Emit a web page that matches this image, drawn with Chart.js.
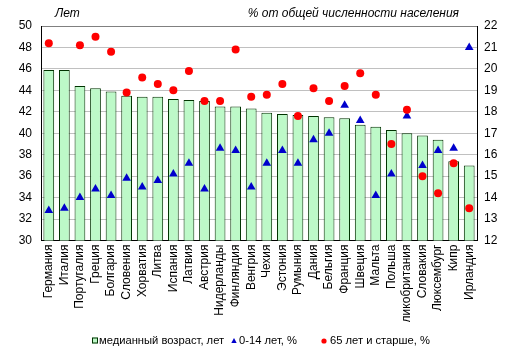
<!DOCTYPE html>
<html>
<head>
<meta charset="utf-8">
<script src="https://cdn.jsdelivr.net/npm/chart.js@4/dist/chart.umd.min.js"></script>
<style>
html,body{margin:0;padding:0;background:#fff;}
#wrap{width:516px;height:356px;}
</style>
</head>
<body>
<div id="wrap"><canvas id="c" width="516" height="356"></canvas></div>
<script>
const countries = ["Германия","Италия","Португалия","Греция","Болгария","Словения","Хорватия","Литва","Испания","Латвия","Австрия","Нидерланды","Финляндия","Венгрия","Чехия","Эстония","Румыния","Дания","Бельгия","Франция","Швеция","Мальта","Польша","Великобритания","Словакия","Люксембург","Кипр","Ирландия"];
const medianAge = [45.9,45.9,44.4,44.2,43.9,43.5,43.4,43.4,43.2,43.1,43.0,42.5,42.5,42.3,41.9,41.8,41.7,41.6,41.5,41.4,40.8,40.6,40.3,40.0,39.8,39.4,37.4,37.0];
const share0to14 = [13.4,13.5,14.0,14.4,14.1,14.9,14.5,14.8,15.1,15.6,14.4,16.3,16.2,14.5,15.6,16.2,15.6,16.7,17.0,18.3,17.6,14.1,15.1,17.8,15.5,16.2,16.3,21.0];
const share65plus = [21.2,null,21.1,21.5,20.8,18.9,19.6,19.3,19.0,19.9,18.5,18.5,20.9,18.7,18.8,19.3,17.8,19.1,18.5,19.2,19.8,18.8,16.5,18.1,15.0,14.2,15.6,13.5];
const seriesNames = ["медианный возраст, лет","0-14 лет, %","65 лет и старше, %"];
const leftTitle = "Лет";
const rightTitle = "% от общей численности населения";

const FONT = "'Liberation Sans', Arial, sans-serif";
const BAR_FILL = "#bdf9c8";
const BAR_EDGE = "#003300";
const BLUE = "#0000cc";
const RED = "#ff0000";

const extras = {
  id: 'extras',
  beforeDraw(chart) {
    const s = chart.scales.x;
    if (s && !s._clipPatched) {
      const orig = s.drawLabels.bind(s);
      s.drawLabels = function(area) {
        const ctx = this.ctx;
        ctx.save();
        ctx.beginPath();
        ctx.rect(0, 0, 516, 322);
        ctx.clip();
        orig(area);
        ctx.restore();
      };
      s._clipPatched = true;
    }
  },
  afterDraw(chart) {
    const ctx = chart.ctx;
    ctx.save();
    ctx.fillStyle = '#000';
    ctx.font = "italic 12px " + FONT;
    ctx.textBaseline = 'alphabetic';
    ctx.textAlign = 'left';
    ctx.fillText(leftTitle, 55, 17);
    ctx.textAlign = 'right';
    ctx.fillText(rightTitle, 459, 17);

    // legend
    const cy = 341;
    ctx.font = "11.2px " + FONT;
    ctx.textAlign = 'left';
    ctx.textBaseline = 'middle';
    // square
    ctx.fillStyle = BAR_FILL;
    ctx.strokeStyle = BAR_EDGE;
    ctx.lineWidth = 1;
    ctx.fillRect(92, cy - 3.5, 6, 6);
    ctx.strokeRect(92.5, cy - 3, 5, 5);
    ctx.fillStyle = '#000';
    ctx.fillText(seriesNames[0], 99, cy);
    // triangle
    ctx.fillStyle = BLUE;
    ctx.beginPath();
    ctx.moveTo(234, cy - 3);
    ctx.lineTo(236.7, cy + 2);
    ctx.lineTo(231.3, cy + 2);
    ctx.closePath();
    ctx.fill();
    ctx.fillStyle = '#000';
    ctx.fillText(seriesNames[1], 239, cy);
    // circle
    ctx.fillStyle = RED;
    ctx.beginPath();
    ctx.arc(324, cy, 2.6, 0, Math.PI * 2);
    ctx.fill();
    ctx.fillStyle = '#000';
    ctx.fillText(seriesNames[2], 330, cy);
    ctx.restore();
  }
};

new Chart(document.getElementById('c'), {
  data: {
    labels: countries,
    datasets: [
      {
        type: 'bar', label: seriesNames[0], data: medianAge, yAxisID: 'y',
        backgroundColor: BAR_FILL, borderColor: BAR_EDGE, borderWidth: 1,
        barPercentage: 0.69, categoryPercentage: 1, order: 3
      },
      {
        type: 'line', label: seriesNames[1], data: share0to14, yAxisID: 'y2',
        showLine: false, pointStyle: 'triangle', pointRadius: 5,
        pointBackgroundColor: BLUE, pointBorderColor: BLUE, pointBorderWidth: 0, order: 2
      },
      {
        type: 'line', label: seriesNames[2], data: share65plus, yAxisID: 'y2',
        showLine: false, pointStyle: 'circle', pointRadius: 4,
        pointBackgroundColor: RED, pointBorderColor: RED, pointBorderWidth: 0, order: 1
      }
    ]
  },
  options: {
    responsive: false,
    animation: false,
    devicePixelRatio: 1,
    layout: { padding: { top: 26, bottom: 0, left: 0, right: 0 } },
    plugins: { legend: { display: false }, tooltip: { enabled: false }, title: { display: false } },
    scales: {
      x: {
        grid: { display: false, drawTicks: false },
        border: { color: '#000', width: 1 },
        ticks: { color: '#000', font: { family: FONT, size: 12 }, minRotation: 90, maxRotation: 90, autoSkip: false, padding: 4 },
        afterFit(s) { s.height = 115.5; }
      },
      y: {
        position: 'left', min: 30, max: 50,
        ticks: { stepSize: 2, color: '#000', font: { family: FONT, size: 12 }, padding: 9 },
        grid: { drawTicks: false, color: (c) => c.tick && c.tick.value === 50 ? '#808080' : '#c0c0c0' },
        border: { color: '#000', width: 1 },
        afterFit(s) { s.width = 41; }
      },
      y2: {
        position: 'right', min: 12, max: 22,
        ticks: { stepSize: 1, color: '#000', font: { family: FONT, size: 12 }, padding: 7 },
        grid: { display: false, drawTicks: false },
        border: { color: '#000', width: 1 },
        afterFit(s) { s.width = 39; }
      }
    }
  },
  plugins: [extras]
});
</script>
</body>
</html>
